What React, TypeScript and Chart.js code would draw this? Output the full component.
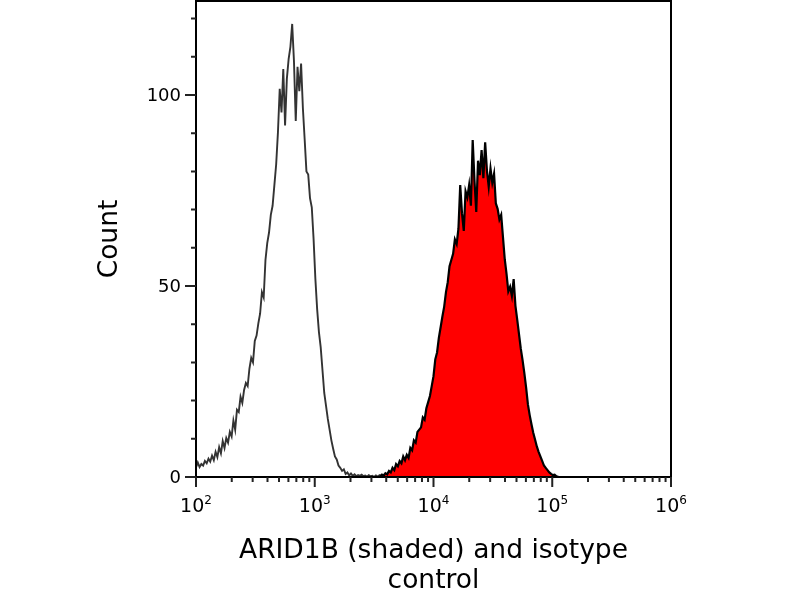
import { useEffect, useRef } from "react"
import { Chart, registerables } from "chart.js"

Chart.register(...registerables)

// histogram bins, in log10 units of fluorescence intensity
const BIN = 0.015
const ISO_START = 2.0
const ARID_START = 3.55

// isotype control (open outline)
const isotypeCounts = [
  2.5, 3.8, 2.6, 3.4, 3.0, 4.2, 3.6, 4.8, 4.0, 5.6,
  4.4, 6.6, 5.2, 7.8, 6.2, 9.4, 7.6, 10.2, 9.0, 11.8,
  10.6, 14.8, 12.4, 17.6, 17.0, 21.0, 19.4, 22.8, 24.6, 23.8,
  28.4, 31.2, 30.0, 35.6, 37.0, 40.2, 42.8, 48.4, 47.0, 56.8,
  61.2, 64.0, 68.6, 71.0, 76.4, 81.8, 90.2, 101.6, 95.4, 106.8,
  92.0, 104.2, 109.4, 112.6, 118.6, 108.8, 93.2, 107.4, 101.0, 108.2,
  96.6, 88.4, 80.0, 79.2, 73.0, 70.6, 62.4, 52.0, 44.0, 38.0,
  34.0, 28.0, 22.0, 18.6, 15.2, 12.4, 9.6, 7.4, 5.4, 4.6,
  3.0, 2.4, 1.6, 2.0, 0.8, 1.2, 0.4, 0.9, 0.3, 0.7,
  0.2, 0.5, 0.3, 0.6, 0.2, 0.4, 0.1, 0.5, 0.2, 0.3,
  0, 0.4, 0.1, 0.5, 0.2, 0.6, 0.3, 0.1, 0.4, 0.2,
  0.5, 0.3, 0.7, 0.2, 0.4, 0.6, 0.3, 0.5, 0.8, 0.4,
]

// ARID1B stained (shaded)
const arid1bCounts = [
  0.2, 0.6, 0.3, 1.0, 0.7, 1.6, 1.2, 2.4, 1.8, 3.4,
  2.8, 4.2, 3.6, 5.4, 4.4, 5.8, 5.0, 7.6, 7.0, 9.6,
  9.0, 11.8, 12.4, 13.0, 15.6, 15.0, 18.0, 19.6, 21.2, 23.8,
  26.4, 30.8, 32.6, 36.4, 39.2, 42.0, 44.6, 48.4, 51.0, 55.2,
  56.8, 58.4, 62.2, 61.0, 65.0, 76.4, 69.0, 64.4, 74.8, 73.2,
  76.4, 71.0, 88.2, 77.6, 69.4, 82.8, 79.0, 85.6, 78.2, 87.6,
  80.2, 76.0, 80.8, 77.0, 79.4, 71.6, 70.2, 67.4, 68.6, 62.8,
  57.0, 53.2, 48.6, 49.8, 47.4, 51.8, 44.8, 41.2, 37.4, 33.6,
  30.6, 27.2, 23.4, 19.0, 16.2, 13.8, 11.6, 9.8, 8.0, 6.6,
  5.4, 4.2, 3.0, 2.4, 1.8, 1.2, 0.8, 0.5, 0.6, 0.2,
  0.1,
]

const yMajorTicks = [0, 50, 100]
const yMinorTicks = [10, 20, 30, 40, 60, 70, 80, 90, 110, 120]
const xDecades = [2, 3, 4, 5, 6]
const xMinorMultipliers = [2, 3, 4, 5, 6, 7, 8, 9]

const X_MIN = 2
const X_MAX = 6
const Y_MAX = 124.6

const FONT = "'DejaVu Sans', Verdana, sans-serif"

const toPoints = (start: number, counts: number[]) =>
  counts.map((c, i) => ({ x: start + i * BIN, y: c }))

// frame, ticks and labels drawn by hand
const flowAxes = {
  id: "flowAxes",
  afterDraw(chart: any) {
    const { ctx, chartArea: a, scales } = chart
    const xs = scales.x
    const ys = scales.y
    ctx.save()

    ctx.strokeStyle = "#000"
    ctx.lineWidth = 2
    ctx.strokeRect(a.left, a.top, a.right - a.left, a.bottom - a.top)

    ctx.lineWidth = 2
    ctx.strokeStyle = "#222"
    ctx.beginPath()
    yMajorTicks.forEach((v) => {
      const y = ys.getPixelForValue(v)
      ctx.moveTo(a.left - 11, y)
      ctx.lineTo(a.left, y)
    })
    yMinorTicks.forEach((v) => {
      const y = ys.getPixelForValue(v)
      ctx.moveTo(a.left - 5, y)
      ctx.lineTo(a.left, y)
    })
    xDecades.forEach((d) => {
      const x = xs.getPixelForValue(d)
      ctx.moveTo(x, a.bottom)
      ctx.lineTo(x, a.bottom + 10)
      if (d < X_MAX) {
        xMinorMultipliers.forEach((m) => {
          const mx = xs.getPixelForValue(d + Math.log10(m))
          ctx.moveTo(mx, a.bottom)
          ctx.lineTo(mx, a.bottom + 5)
        })
      }
    })
    ctx.stroke()

    ctx.fillStyle = "#000"
    ctx.font = `18px ${FONT}`
    ctx.textAlign = "right"
    ctx.textBaseline = "middle"
    yMajorTicks.forEach((v) => {
      ctx.fillText(String(v), a.left - 15, ys.getPixelForValue(v) + 1)
    })

    ctx.textAlign = "left"
    ctx.textBaseline = "alphabetic"
    xDecades.forEach((d) => {
      const x = xs.getPixelForValue(d)
      ctx.font = `19px ${FONT}`
      const w1 = ctx.measureText("10").width
      ctx.font = `12px ${FONT}`
      const w2 = ctx.measureText(String(d)).width
      const left = x - (w1 + w2) / 2
      ctx.font = `19px ${FONT}`
      ctx.fillText("10", left, 512)
      ctx.font = `12px ${FONT}`
      ctx.fillText(String(d), left + w1, 504)
    })

    ctx.font = `26.5px ${FONT}`
    ctx.textAlign = "center"
    const cx = (a.left + a.right) / 2
    ctx.fillText("ARID1B (shaded) and isotype", cx, 558)
    ctx.fillText("control", cx, 588)

    ctx.translate(110, 239)
    ctx.rotate(-Math.PI / 2)
    ctx.textBaseline = "middle"
    ctx.fillText("Count", 0, 0)

    ctx.restore()
  },
}

export default function App() {
  const canvasRef = useRef<HTMLCanvasElement>(null)
  const chartRef = useRef<Chart | null>(null)

  useEffect(() => {
    document.body.style.margin = "0"
    if (!canvasRef.current) return
    if (chartRef.current) chartRef.current.destroy()

    chartRef.current = new Chart(canvasRef.current, {
      type: "line",
      data: {
        datasets: [
          {
            label: "ARID1B",
            data: toPoints(ARID_START, arid1bCounts),
            borderColor: "#000",
            borderWidth: 2.2,
            backgroundColor: "#ff0000",
            fill: "origin",
            pointRadius: 0,
            tension: 0,
          },
          {
            label: "Isotype control",
            data: toPoints(ISO_START, isotypeCounts),
            borderColor: "#333",
            borderWidth: 1.9,
            fill: false,
            pointRadius: 0,
            tension: 0,
          },
        ],
      },
      options: {
        animation: false,
        responsive: true,
        maintainAspectRatio: false,
        layout: { padding: { left: 196, right: 129, top: 1, bottom: 123 } },
        plugins: { legend: { display: false }, tooltip: { enabled: false } },
        scales: {
          x: { type: "linear", min: X_MIN, max: X_MAX, display: false },
          y: { type: "linear", min: 0, max: Y_MAX, display: false },
        },
      },
      plugins: [flowAxes],
    })

    return () => {
      if (chartRef.current) {
        chartRef.current.destroy()
        chartRef.current = null
      }
    }
  }, [])

  return (
    <div style={{ width: 800, height: 600, background: "#fff" }}>
      <canvas ref={canvasRef}></canvas>
    </div>
  )
}
